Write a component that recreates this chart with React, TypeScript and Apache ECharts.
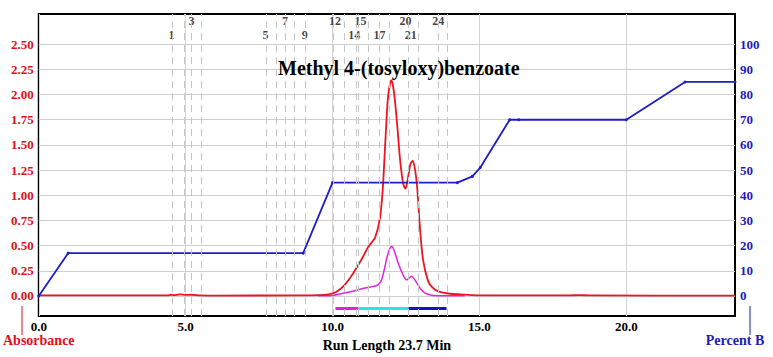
import React, { useEffect, useRef } from "react";
import * as echarts from "echarts";

const FONT = "'Liberation Serif', 'Times New Roman', serif";

// Axis ticks
const xTicks = [0, 5, 10, 15, 20];
const absTicks = [0, 0.25, 0.5, 0.75, 1.0, 1.25, 1.5, 1.75, 2.0, 2.25, 2.5];
const pctTicks = [0, 10, 20, 30, 40, 50, 60, 70, 80, 90, 100];

// Absorbance trace (red)
const redTime = [0, 4.4, 4.5, 4.6, 4.8, 5.0, 5.2, 5.5, 6.0, 9.0, 9.5, 9.8, 10.0, 10.2, 10.4, 10.6, 10.8, 11.0, 11.2, 11.3, 11.45, 11.6, 11.7, 11.8, 11.88, 11.95, 12.0, 12.05, 12.12, 12.2, 12.3, 12.4, 12.48, 12.56, 12.65, 12.72, 12.8, 12.88, 12.97, 13.08, 13.25, 13.4, 13.6, 14.0, 14.5, 15.0, 18.0, 18.4, 18.8, 23.7];
const redAbs = [0.005, 0.005, 0.012, 0.008, 0.015, 0.01, 0.012, 0.006, 0.004, 0.006, 0.008, 0.012, 0.025, 0.055, 0.105, 0.18, 0.27, 0.37, 0.48, 0.52, 0.58, 0.75, 1.02, 1.55, 1.95, 2.1, 2.14, 2.1, 1.95, 1.7, 1.35, 1.12, 1.065, 1.16, 1.31, 1.34, 1.27, 1.08, 0.7, 0.36, 0.15, 0.085, 0.046, 0.022, 0.013, 0.006, 0.005, 0.009, 0.005, 0.004];

// Second trace (magenta)
const magTime = [9.5, 10.0, 10.4, 10.8, 11.1, 11.4, 11.55, 11.67, 11.76, 11.85, 11.95, 12.02, 12.1, 12.23, 12.4, 12.52, 12.6, 12.69, 12.78, 12.91, 13.0, 13.14, 13.37, 13.8, 14.5];
const magAbs = [0.002, 0.005, 0.03, 0.055, 0.08, 0.095, 0.11, 0.16, 0.26, 0.38, 0.47, 0.49, 0.45, 0.33, 0.21, 0.16, 0.175, 0.195, 0.17, 0.11, 0.07, 0.03, 0.008, 0.003, 0.002];

// Gradient (Percent B)
const gradTime = [0, 1.0, 9.0, 10.0, 14.25, 14.76, 15.03, 16.03, 16.34, 20.0, 22.0, 23.7];
const gradPct = [0, 17, 17, 45, 45, 47.5, 51, 70, 70, 70, 85, 85];

// Fraction boundaries (dashed lines)
const fractionMarks = [4.56, 4.95, 5.2, 5.54, 7.76, 8.1, 8.4, 8.71, 9.08, 10.03, 10.41, 10.8, 10.88, 11.22, 11.6, 11.94, 12.59, 12.93, 13.61, 13.91];

// Fraction labels
const fracUpperNames = ["3", "7", "12", "15", "20", "24"];
const fracUpperTime = [5.2, 8.38, 10.08, 10.95, 12.48, 13.6];
const fracLowerNames = ["1", "5", "9", "14", "17", "21"];
const fracLowerTime = [4.52, 7.72, 9.05, 10.74, 11.6, 12.66];

// Collection segments
const segStart = [10.1, 10.88, 12.59];
const segEnd = [10.88, 12.59, 13.88];
const segColors = ["#e21fe0", "#27e3ea", "#1414c4"];

const RED = "#ee1520";
const BLUE = "#1e1ec8";
const MAG = "#e024e0";

function zip(a: number[], b: number[]) {
  return a.map((v, i) => [v, b[i]]);
}

export default function App() {
  const ref = useRef<HTMLDivElement>(null);
  useEffect(() => {
    if (!ref.current) return;
    const chart = echarts.init(ref.current, undefined, { renderer: "svg" });
    const labelStyle = {
      show: true,
      formatter: "{b}",
      position: "inside" as const,
      color: "#111",
      fontWeight: "bold" as const,
      fontSize: 12,
      fontFamily: FONT,
    };
    const option: any = {
      animation: false,
      backgroundColor: "#ffffff",
      title: {
        text: "Methyl 4-(tosyloxy)benzoate",
        left: 273,
        top: 53,
        textStyle: { fontFamily: FONT, fontWeight: "bold", fontSize: 20, color: "#000" },
      },
      grid: {
        left: 37,
        right: 38,
        top: 14,
        bottom: 37,
        show: true,
        borderColor: "#000",
        borderWidth: 2,
        backgroundColor: "transparent",
      },
      xAxis: {
        type: "value",
        min: 0,
        max: 23.7,
        name: "Run Length 23.7 Min",
        nameLocation: "middle",
        nameGap: 13,
        nameTextStyle: { fontFamily: FONT, fontWeight: "bold", fontSize: 14, color: "#000" },
        axisLine: { show: false },
        axisTick: { show: false, customValues: xTicks },
        axisLabel: {
          customValues: xTicks,
          formatter: (v: number) => v.toFixed(1),
          fontFamily: FONT,
          fontWeight: "bold",
          fontSize: 13,
          color: "#000",
          margin: 4,
        },
        splitLine: { show: true, lineStyle: { color: "#d4d4d4", width: 1 } },
      },
      yAxis: [
        {
          type: "value",
          min: -0.2,
          max: 2.8,
          name: "Absorbance",
          nameLocation: "start",
          nameGap: 17,
          nameTextStyle: { fontFamily: FONT, fontWeight: "bold", fontSize: 14, color: "#e0101a", align: "center", verticalAlign: "top" },
          axisLine: { show: false },
          axisTick: { show: false, customValues: absTicks },
          axisLabel: {
            customValues: absTicks,
            formatter: (v: number) => v.toFixed(2),
            fontFamily: FONT,
            fontWeight: "bold",
            fontSize: 13,
            color: "#e0101a",
            margin: 5,
          },
          splitLine: { show: true, lineStyle: { color: "#cfcfcf", width: 1 } },
        },
        {
          type: "value",
          min: -8,
          max: 112,
          position: "right",
          name: "Percent B",
          nameLocation: "start",
          nameGap: 17,
          nameTextStyle: { fontFamily: FONT, fontWeight: "bold", fontSize: 14, color: "#1c1cb8", align: "center", verticalAlign: "top" },
          axisLine: { show: false },
          axisTick: { show: false, customValues: pctTicks },
          axisLabel: {
            customValues: pctTicks,
            fontFamily: FONT,
            fontWeight: "bold",
            fontSize: 13,
            color: "#1c1cb8",
            margin: 5,
          },
          splitLine: { show: false },
        },
      ],
      graphic: [
        { type: "line", shape: { x1: 22, y1: 306, x2: 22, y2: 335 }, style: { stroke: "#e0101a", lineWidth: 1 } },
        { type: "line", shape: { x1: 750, y1: 306, x2: 750, y2: 335 }, style: { stroke: "#1c1cb8", lineWidth: 1 } },
      ],
      series: [
        {
          type: "line",
          name: "fractions",
          data: [],
          symbol: "none",
          markLine: {
            silent: true,
            symbol: "none",
            label: { show: false },
            lineStyle: { color: "#c6c6c6", type: [7, 5], width: 1 },
            data: fractionMarks.map((x) => ({ xAxis: x })),
          },
        },
        {
          type: "line",
          name: "trace2",
          data: zip(magTime, magAbs),
          smooth: 0.3,
          symbol: "none",
          lineStyle: { color: MAG, width: 1.5 },
        },
        {
          type: "line",
          name: "Absorbance",
          data: zip(redTime, redAbs),
          smooth: 0.3,
          symbol: "none",
          lineStyle: { color: RED, width: 1.8 },
        },
        {
          type: "line",
          name: "Percent B",
          yAxisIndex: 1,
          data: zip(gradTime, gradPct),
          symbol: "circle",
          symbolSize: 3,
          itemStyle: { color: BLUE },
          lineStyle: { color: BLUE, width: 1.8 },
        },
        ...segStart.map((s, i) => ({
          type: "line",
          name: "seg" + i,
          data: [[s, -0.125], [segEnd[i], -0.125]],
          symbol: "none",
          lineStyle: { color: segColors[i], width: 3 },
        })),
        {
          type: "scatter",
          name: "fracUpper",
          symbolSize: 0,
          data: fracUpperNames.map((n, i) => ({ name: n, value: [fracUpperTime[i], 2.735] })),
          label: labelStyle,
        },
        {
          type: "scatter",
          name: "fracLower",
          symbolSize: 0,
          data: fracLowerNames.map((n, i) => ({ name: n, value: [fracLowerTime[i], 2.59] })),
          label: labelStyle,
        },
      ],
    };
    chart.setOption(option);
    return () => chart.dispose();
  }, []);
  return (
    <div
      ref={ref}
      style={{ position: "fixed", left: 0, top: 0, width: 773, height: 357, background: "#fff" }}
    />
  );
}
